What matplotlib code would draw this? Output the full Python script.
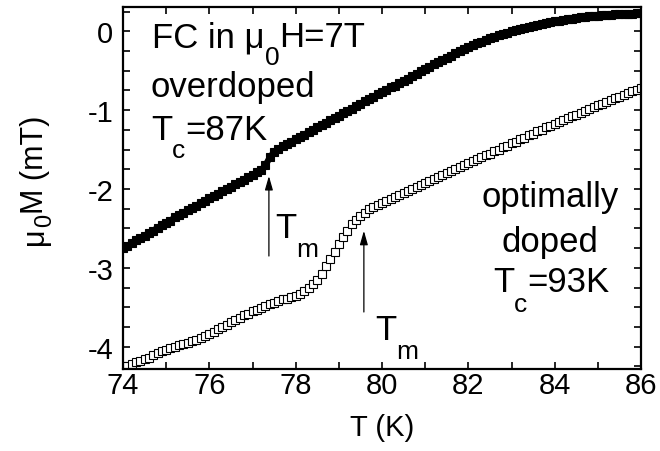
import matplotlib
matplotlib.use('Agg')
import matplotlib.pyplot as plt
from matplotlib.ticker import MultipleLocator

plt.rcParams['font.family'] = ['Liberation Sans', 'DejaVu Sans']
plt.rcParams['axes.unicode_minus'] = False

# ---- data ----
T = [74.0, 74.1, 74.2, 74.3, 74.4, 74.5, 74.6, 74.7, 74.8, 74.9,
     75.0, 75.1, 75.2, 75.3, 75.4, 75.5, 75.6, 75.7, 75.8, 75.9,
     76.0, 76.1, 76.2, 76.3, 76.4, 76.5, 76.6, 76.7, 76.8, 76.9,
     77.0, 77.1, 77.2, 77.3, 77.4, 77.5, 77.6, 77.7, 77.8, 77.9,
     78.0, 78.1, 78.2, 78.3, 78.4, 78.5, 78.6, 78.7, 78.8, 78.9,
     79.0, 79.1, 79.2, 79.3, 79.4, 79.5, 79.6, 79.7, 79.8, 79.9,
     80.0, 80.1, 80.2, 80.3, 80.4, 80.5, 80.6, 80.7, 80.8, 80.9,
     81.0, 81.1, 81.2, 81.3, 81.4, 81.5, 81.6, 81.7, 81.8, 81.9,
     82.0, 82.1, 82.2, 82.3, 82.4, 82.5, 82.6, 82.7, 82.8, 82.9,
     83.0, 83.1, 83.2, 83.3, 83.4, 83.5, 83.6, 83.7, 83.8, 83.9,
     84.0, 84.1, 84.2, 84.3, 84.4, 84.5, 84.6, 84.7, 84.8, 84.9,
     85.0, 85.1, 85.2, 85.3, 85.4, 85.5, 85.6, 85.7, 85.8, 85.9,
     86.0]

M_overdoped = [-2.75, -2.72, -2.69, -2.65, -2.62, -2.59, -2.56, -2.53, -2.49, -2.46,
               -2.43, -2.40, -2.36, -2.33, -2.30, -2.27, -2.24, -2.21, -2.18, -2.15,
               -2.12, -2.09, -2.06, -2.03, -2.00, -1.97, -1.94, -1.91, -1.88, -1.85,
               -1.82, -1.79, -1.76, -1.70, -1.60, -1.53, -1.49, -1.46, -1.43, -1.40,
               -1.37, -1.34, -1.31, -1.28, -1.25, -1.22, -1.19, -1.16, -1.13, -1.10,
               -1.07, -1.04, -1.01, -0.98, -0.95, -0.92, -0.89, -0.86, -0.83, -0.80,
               -0.77, -0.74, -0.71, -0.69, -0.66, -0.63, -0.60, -0.57, -0.54, -0.51,
               -0.48, -0.45, -0.42, -0.39, -0.36, -0.335, -0.31, -0.28, -0.255, -0.23,
               -0.20, -0.177, -0.154, -0.131, -0.108, -0.085, -0.067, -0.05, -0.033, -0.016,
               0.0, 0.015, 0.029, 0.043, 0.057, 0.07, 0.081, 0.092, 0.103, 0.114,
               0.125, 0.134, 0.143, 0.152, 0.161, 0.17, 0.176, 0.182, 0.188, 0.194,
               0.20, 0.204, 0.207, 0.211, 0.214, 0.218, 0.220, 0.223, 0.225, 0.228,
               0.23]

M_optimal = [-4.25, -4.24, -4.22, -4.20, -4.18, -4.16, -4.14, -4.11, -4.08, -4.06,
             -4.04, -4.02, -4.00, -3.98, -3.97, -3.95, -3.93, -3.91, -3.89, -3.86,
             -3.84, -3.81, -3.78, -3.75, -3.72, -3.69, -3.66, -3.63, -3.60, -3.58,
             -3.55, -3.53, -3.51, -3.48, -3.46, -3.44, -3.42, -3.40, -3.39, -3.37,
             -3.36, -3.33, -3.30, -3.26, -3.21, -3.16, -3.08, -2.98, -2.89, -2.80,
             -2.70, -2.61, -2.53, -2.45, -2.39, -2.34, -2.30, -2.26, -2.23, -2.20,
             -2.18, -2.15, -2.13, -2.10, -2.08, -2.05, -2.02, -2.00, -1.97, -1.95,
             -1.92, -1.90, -1.87, -1.85, -1.82, -1.80, -1.77, -1.75, -1.72, -1.70,
             -1.67, -1.65, -1.62, -1.60, -1.57, -1.55, -1.52, -1.50, -1.47, -1.45,
             -1.42, -1.40, -1.37, -1.35, -1.32, -1.30, -1.27, -1.25, -1.22, -1.20,
             -1.17, -1.15, -1.13, -1.10, -1.08, -1.06, -1.03, -1.01, -0.99, -0.96,
             -0.94, -0.92, -0.90, -0.87, -0.85, -0.83, -0.81, -0.78, -0.76, -0.74,
             -0.72]

x_ticks = [74, 76, 78, 80, 82, 84, 86]
y_ticks = [-4, -3, -2, -1, 0]

# arrows: (T position, tail M, head M)
arrow_over = (77.38, -2.85, -1.835)
arrow_opt = (79.58, -3.56, -2.53)

# ---- figure ----
W, H = 660, 452
fig = plt.figure(figsize=(W / 100, H / 100), dpi=100)
ax = fig.add_axes([123 / W, 1 - 370 / H, (641 - 123) / W, (370 - 8) / H])

ax.plot(T, M_overdoped, color='black', lw=4.5, solid_capstyle='butt')
ax.plot(T, M_overdoped, linestyle='none', marker='s', ms=5.5, mfc='black',
        mec='black', mew=0.8)
ax.plot(T, M_optimal, linestyle='none', marker='s', ms=5.5, mfc='white',
        mec='black', mew=0.8)

ax.set_xlim(74, 86)
ax.set_ylim(-4.283, 0.308)
ax.set_xticks(x_ticks)
ax.set_xticklabels([str(v) for v in x_ticks])
ax.set_yticks(y_ticks)
ax.set_yticklabels([str(v) for v in y_ticks])
ax.xaxis.set_minor_locator(MultipleLocator(1))
ax.yaxis.set_minor_locator(MultipleLocator(0.25))
ax.tick_params(which='both', direction='in', top=True, right=True, width=1.2)
ax.tick_params(which='major', length=5, labelsize=21)
ax.tick_params(which='minor', length=5)
ax.tick_params(axis='x', pad=1.5)
ax.tick_params(axis='y', pad=7)
for s in ax.spines.values():
    s.set_linewidth(1.6)

ax.set_xlabel('T (K)', fontsize=21, labelpad=10)

for (tx, y0, y1) in (arrow_over, arrow_opt):
    ax.annotate('', xy=(tx, y1), xytext=(tx, y0),
                arrowprops=dict(arrowstyle='-|>,head_length=0.7,head_width=0.2',
                                color='black', lw=0.9, mutation_scale=12,
                                shrinkA=0, shrinkB=0))

fig.canvas.draw()
renderer = fig.canvas.get_renderer()


def measure(pieces):
    widths = []
    for s, fs, dy in pieces:
        t = fig.text(0, 0, s, fontsize=fs)
        widths.append(t.get_window_extent(renderer).width)
        t.remove()
    return widths


def chain(x, y, pieces, center=False):
    """Place text pieces side by side; x, y in reference pixel coords (top-left origin)."""
    widths = measure(pieces)
    cx = x - sum(widths) / 2 if center else x
    for (s, fs, dy), w in zip(pieces, widths):
        fig.text(cx / W, (H - y - dy) / H, s, fontsize=fs, va='baseline', ha='left')
        cx += w


def vchain(x, y, pieces):
    """Rotated (bottom-to-top) text pieces; x = baseline, y = start (bottom)."""
    widths = measure(pieces)
    cy = y
    for (s, fs, dx), w in zip(pieces, widths):
        fig.text((x + dx) / W, (H - cy) / H, s, fontsize=fs, rotation=90,
                 rotation_mode='anchor', va='baseline', ha='left')
        cy -= w


big, small = 25, 19
chain(152, 47, [('FC in μ', big, 0), ('0', small, 18), ('H=7T', big, 0)])
chain(151, 97, [('overdoped', big, 0)])
chain(151, 140, [('T', big, 0), ('c', small, 18), ('=87K', big, 0)])
chain(550, 207, [('optimally', big, 0)], center=True)
chain(550, 252, [('doped', big, 0)], center=True)
chain(551, 292, [('T', big, 0), ('c', small, 20), ('=93K', big, 0)], center=True)
chain(275, 238, [('T', big, 0), ('m', small, 19)])
chain(375, 340, [('T', big, 0), ('m', small, 19)])

# y-axis label
vchain(43, 245, [('μ', 22, 0), ('0', 17, 8), ('M (mT)', 22, 0)])

fig.savefig('out.png', dpi=100)
